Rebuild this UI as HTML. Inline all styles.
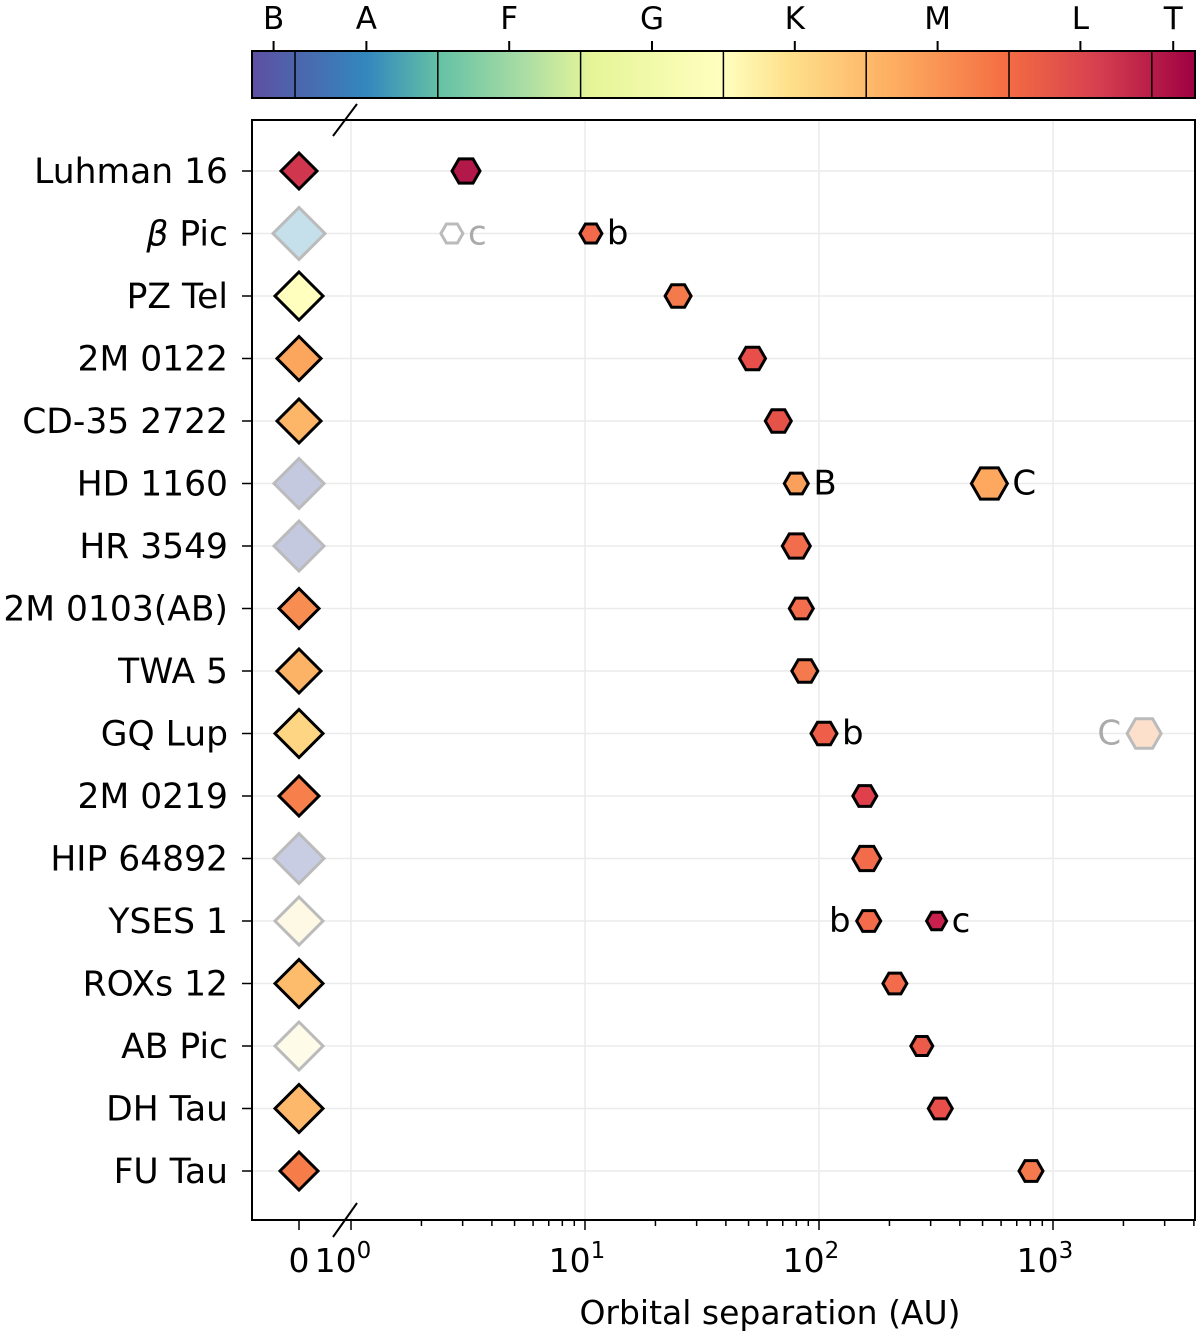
<!DOCTYPE html>
<html><head><meta charset="utf-8"><style>
body{margin:0;background:#fff}
svg text{font-family:"DejaVu Sans","Liberation Sans",sans-serif;fill:#000}
</style></head><body>
<svg id="c" width="1200" height="1334" viewBox="0 0 1200 1334" xmlns="http://www.w3.org/2000/svg">
<defs><linearGradient id="sp" x1="0" x2="1" y1="0" y2="0">
<stop offset="0" stop-color="#5e4fa2"/><stop offset="0.122" stop-color="#3288bd"/><stop offset="0.2" stop-color="#66c2a5"/><stop offset="0.29" stop-color="#abdda4"/><stop offset="0.36" stop-color="#e6f598"/><stop offset="0.5" stop-color="#ffffbf"/><stop offset="0.57" stop-color="#fee08b"/><stop offset="0.68" stop-color="#fdae61"/><stop offset="0.8" stop-color="#f46d43"/><stop offset="0.9" stop-color="#d53e4f"/><stop offset="1" stop-color="#9e0142"/></linearGradient></defs>
<g id="cb"><rect x="252" y="51" width="943" height="47" fill="url(#sp)" stroke="#000" stroke-width="2"/></g>
<g id="grid"></g><g id="marks"></g>
<rect x="252" y="120" width="943" height="1100" fill="none" stroke="#000" stroke-width="2"/>
<line x1="333" y1="136" x2="357" y2="104" stroke="#000" stroke-width="2"/>
<line x1="333" y1="1237" x2="357" y2="1203" stroke="#000" stroke-width="2"/>
<text x="770" y="1324" font-size="33" text-anchor="middle">Orbital separation (AU)</text>
</svg>
<script>
const names=["Luhman 16","β Pic","PZ Tel","2M 0122","CD-35 2722","HD 1160","HR 3549","2M 0103(AB)","TWA 5","GQ Lup","2M 0219","HIP 64892","YSES 1","ROXs 12","AB Pic","DH Tau","FU Tau"];
const starColor=["#d1364f","#c5e0ea","#ffffbe","#fca55d","#fdb567","#c4c9e0","#c4c9e0","#f88d52","#fdb365","#fed683","#f67f4b","#c8cde3","#fdf9e4","#fdbb6c","#fefbe9","#fdb86b","#f67c4a"];
const starSize=[18,26,24,22,22,25,25,20,22,24,20,25,24,24,24,24,19];
const starFaded=[0,1,0,0,0,1,1,0,0,0,0,1,1,0,1,0,0];
const compRow=[0,1,1,2,3,4,5,5,6,7,8,9,9,10,11,12,12,13,14,15,16];
const compSep=[3.1,2.7,10.6,25,52,67,80,535,80,84,87,105,2450,157,160,163,318,211,275,330,805];
const compColor=["#b2184a","#fff","#f26a4a","#f47a4c","#e84f4a","#e55348","#fba05b","#fda85e","#f26d4c","#f36e4c","#f47a4d","#ee5e48","#fde0cc","#e0404c","#f26b4a","#f46b4b","#c8214d","#f26b4b","#ec5b4a","#e84f4a","#f47a4d"];
const compSize=[14,11,11,13,13,13,12,18,14,12,13,13,17,12,14,12,10,12,11,12,12];
const compFaded=[0,1,0,0,0,0,0,0,0,0,0,0,1,0,0,0,0,0,0,0,0];
const compLabel=["","c","b","","","","B","C","","","","b","C","","","b","c","","","",""];
const compLabelLeft=[0,0,0,0,0,0,0,0,0,0,0,0,1,0,0,1,0,0,0,0,0];
const spTypes=["B","A","F","G","K","M","L","T"];
const spPos=[-0.15,0.5,1.5,2.5,3.5,4.5,5.5,6.15];
const cbBounds=[0,1,2,3,4,5,6];
const NS="http://www.w3.org/2000/svg";
const svg=document.getElementById('c');
const X0=351,DEC=234,ZX=299;
const xs=v=>X0+DEC*Math.log10(v);
const ys=i=>171+62.5*i;
function cbX(s){return 295+s*142.8;}
function el(t,a,p){const e=document.createElementNS(NS,t);for(const k in a)e.setAttribute(k,a[k]);(p||svg).appendChild(e);return e;}
const grid=document.getElementById('grid'),marks=document.getElementById('marks'),cb=document.getElementById('cb');
spTypes.forEach((s,i)=>{const x=cbX(spPos[i]);
const t=el('line',{x1:x,x2:x,y1:41,y2:51,stroke:'#000','stroke-width':2},cb);

const l=el('text',{x:x,y:29,'font-size':31,'text-anchor':'middle'},cb);l.textContent=s;
});
cbBounds.forEach(b=>{const x=cbX(b);const l=el('line',{x1:x,x2:x,y1:51,y2:98,stroke:'#000','stroke-width':1.5},cb);
});
for(let d=0;d<=3;d++){const x=xs(Math.pow(10,d));
const g=el('line',{x1:x,x2:x,y1:120,y2:1220,stroke:'#ebebeb','stroke-width':1.5},grid);

for(let m=1;m<=9;m++){const xm=xs(m*Math.pow(10,d));if(xm>1195)break;
const tk=el('line',{x1:xm,x2:xm,y1:1220,y2:m==1?1230:1226,stroke:'#000','stroke-width':1.5},grid);
}
const t=el('text',{x:x-8,y:1272,'font-size':33,'text-anchor':'middle'},grid);
t.innerHTML='10<tspan dy="-14" font-size="23">'+d+'</tspan>';
}
{const tk=el('line',{x1:ZX,x2:ZX,y1:1220,y2:1230,stroke:'#000','stroke-width':1.5},grid);

const t=el('text',{x:ZX,y:1272,'font-size':33,'text-anchor':'middle'},grid);t.textContent='0';
}
names.forEach((n,i)=>{const y=ys(i);
const g=el('line',{x1:252,x2:1195,y1:y,y2:y,stroke:'#ebebeb','stroke-width':1.5},grid);

const tk=el('line',{x1:242,x2:252,y1:y,y2:y,stroke:'#000','stroke-width':1.5},grid);

const t=el('text',{x:228,y:y+12,'font-size':34.5,'text-anchor':'end'},grid);
if(n.startsWith('β')){t.innerHTML='<tspan font-style="italic">β</tspan> Pic';}else t.textContent=n;

const s=starSize[i];
const d=el('polygon',{points:`${ZX},${y-s} ${ZX+s},${y} ${ZX},${y+s} ${ZX-s},${y}`,fill:starColor[i],stroke:starFaded[i]?'#bbb':'#000','stroke-width':3},marks);
});
compSep.forEach((v,k)=>{const cx=xs(v),cy=ys(compRow[k]),r=compSize[k];
let p=[];for(let a=0;a<6;a++){const th=a*Math.PI/3;p.push((cx+r*Math.cos(th)).toFixed(1)+','+(cy+r*Math.sin(th)).toFixed(1));}
const h=el('polygon',{points:p.join(' '),fill:compColor[k],stroke:compFaded[k]?'#bbb':'#000','stroke-width':3},marks);

if(compLabel[k]){const left=compLabelLeft[k];
const t=el('text',{x:left?cx-r-6:cx+r+5,y:cy+11,'font-size':34,'text-anchor':left?'end':'start'},marks);
t.textContent=compLabel[k];if(compFaded[k])t.setAttribute('style','fill:#aaa');
}});
</script>
</body></html>
